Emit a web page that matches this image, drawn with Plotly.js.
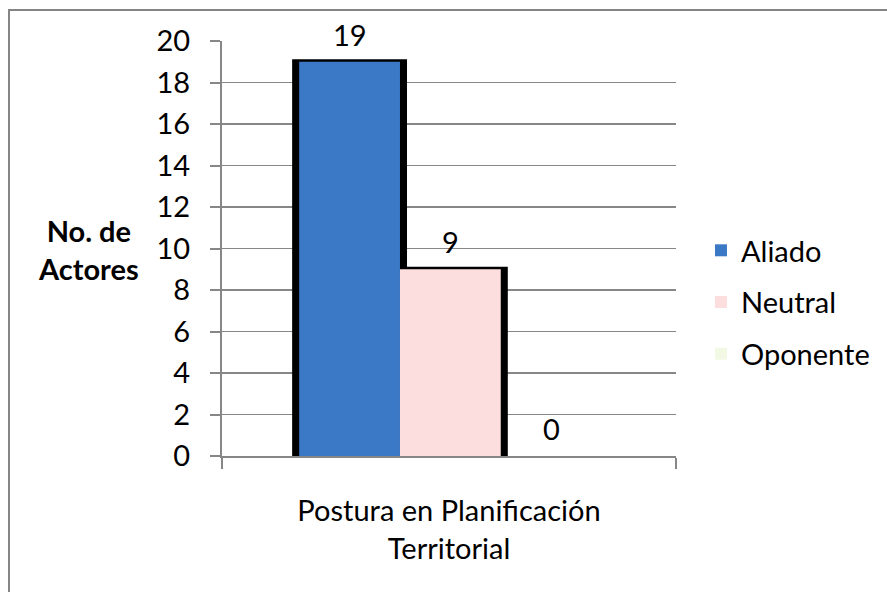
<!DOCTYPE html>
<html>
<head>
<meta charset="utf-8">
<script src="https://cdn.plot.ly/plotly-3.0.1.min.js"></script>
<style>
  html, body { margin: 0; padding: 0; background: #fff; }
  #wrap { position: relative; width: 887px; height: 592px; overflow: hidden; }
  #chart { position: absolute; left: 0; top: 0; width: 887px; height: 592px; }
  #frame { position: absolute; left: 8px; top: 9px; width: 900px; height: 600px;
           border-top: 2.5px solid #858585; border-left: 2.5px solid #858585; pointer-events: none; }
</style>
</head>
<body>
<div id="wrap">
  <div id="chart"></div>
  <div id="frame"></div>
</div>
<script>
// ---- data ----
const categories = ['Postura en Planificación<br>Territorial'];
const seriesNames = ['Aliado', 'Neutral', 'Oponente'];
const aliado = [19];
const neutral = [9];
const oponente = [0];
const yTickVals = [0, 2, 4, 6, 8, 10, 12, 14, 16, 18, 20];
const yTitle = 'No. de<br>Actores';

// ---- styles ----
const seriesData = [aliado, neutral, oponente];
const seriesColors = ['#3b78c6', '#fddede', '#f1f8e4'];
const FONT = 'Lato, "Open Sans", sans-serif';
const FS = 29;
const GRAY = '#878787';
const BAR_W = 0.222;
const START = -0.33;
const SH_EXTRA = 0.02;

const traces = [];
// shadow layer (drawn first)
seriesData.forEach((vals, i) => {
  traces.push({
    type: 'bar', x: categories, y: vals,
    offset: START + i * BAR_W - SH_EXTRA / 2,
    width: BAR_W + SH_EXTRA,
    marker: { color: '#000', line: { color: '#000', width: vals[0] > 0 ? 5 : 0 } },
    showlegend: false, hoverinfo: 'skip'
  });
});
// real bars
seriesData.forEach((vals, i) => {
  traces.push({
    type: 'bar', name: seriesNames[i], legendgroup: 'g' + i,
    x: categories, y: vals,
    offset: START + i * BAR_W,
    width: BAR_W,
    marker: { color: seriesColors[i], line: { width: 0 } }
  });
});

const annotations = seriesData.map((vals, i) => ({
  x: START + i * BAR_W + BAR_W / 2, xref: 'x',
  y: vals[0], yref: 'y',
  text: String(vals[0]), showarrow: false,
  yanchor: 'bottom', yshift: 8,
  font: { family: FONT, size: FS, color: '#000' }
}));
annotations.push({
  x: -0.293, xref: 'paper', y: 0.497, yref: 'paper',
  xanchor: 'center', yanchor: 'middle',
  text: '<b>' + yTitle.split('<br>').join('</b><br><b>') + '</b>',
  showarrow: false,
  font: { family: FONT, size: FS, color: '#000' }
});

const layout = {
  width: 887, height: 592,
  margin: { l: 222, r: 208, t: 41, b: 136, pad: 0 },
  paper_bgcolor: '#fff', plot_bgcolor: '#fff',
  barmode: 'overlay',
  font: { family: FONT, size: FS, color: '#000' },
  showlegend: true,
  legend: {
    x: 1.055, xanchor: 'left', y: 0.37, yanchor: 'middle',
    traceorder: 'grouped', tracegroupgap: 11,
    font: { family: FONT, size: FS, color: '#000' },
    bgcolor: 'rgba(0,0,0,0)', borderwidth: 0
  },
  xaxis: {
    type: 'category', range: [-0.5, 0.5],
    ticks: 'outside', tickson: 'boundaries', ticklen: 11, tickwidth: 2, tickcolor: GRAY,
    showline: true, linecolor: GRAY, linewidth: 2,
    showgrid: false, zeroline: false,
    tickfont: { family: FONT, size: FS, color: '#000' },
    ticklabelstandoff: 28, fixedrange: true
  },
  yaxis: {
    range: [0, 20], tickvals: yTickVals,
    ticks: 'outside', ticklen: 10, tickwidth: 2, tickcolor: GRAY,
    showline: true, linecolor: GRAY, linewidth: 2,
    showgrid: true, gridcolor: GRAY, gridwidth: 1.5, zeroline: false,
    tickfont: { family: FONT, size: FS, color: '#000' },
    ticklabelstandoff: 14, fixedrange: true
  },
  annotations: annotations
};

Plotly.newPlot('chart', traces, layout, { displayModeBar: false, staticPlot: true });
</script>
</body>
</html>
